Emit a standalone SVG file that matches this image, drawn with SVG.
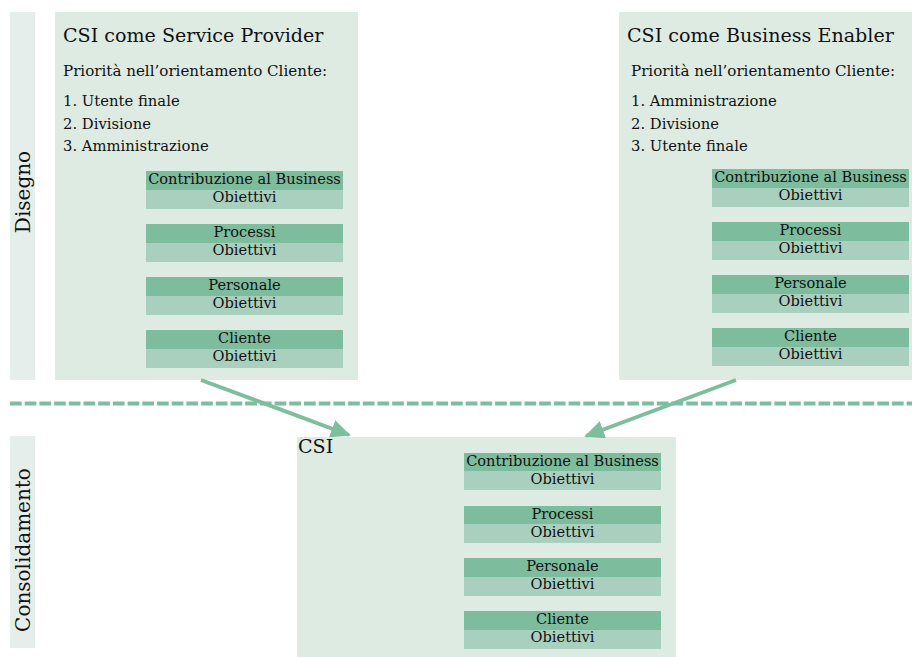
<svg xmlns="http://www.w3.org/2000/svg" width="912" height="657" viewBox="0 0 912 657">
<defs>
<style>
text{font-family:"DejaVu Serif","Liberation Serif",serif;fill:#111111}
.panel{fill:#deebe3}
.strip{fill:#e5eeea}
.dark{fill:#7dbc9c}
.light{fill:#a9cfbe}
.title{font-size:19.1px}
.sub{font-size:15.1px}
.item{font-size:14.8px}
.row{font-size:14.6px;text-anchor:middle}
.lbl{font-size:20px;text-anchor:middle}
.conn{stroke:#7dbe9e;stroke-width:4;fill:none}
</style>
<marker id="ah" viewBox="0 0 10 10" refX="9" refY="5" markerWidth="5" markerHeight="4.5" orient="auto" markerUnits="strokeWidth" preserveAspectRatio="none">
<path d="M0,0 L10,5 L0,10 z" fill="#7dbe9e"/>
</marker>
</defs>
<rect width="912" height="657" fill="#ffffff"/>

<g id="lane-disegno">
<rect class="strip" x="10" y="12" width="25" height="368"/>
<text class="lbl" transform="translate(30,192) rotate(-90)">Disegno</text>
</g>
<g id="lane-consolidamento">
<rect class="strip" x="10" y="436" width="25" height="212"/>
<text class="lbl" transform="translate(30,550) rotate(-90)">Consolidamento</text>
</g>

<g id="service-provider">
<rect class="panel" x="55" y="12" width="303" height="368"/>
<text class="title" x="63" y="42">CSI come Service Provider</text>
<text class="sub" x="63" y="76">Priorità nell’orientamento Cliente:</text>
<text class="item" x="63" y="106">1. Utente finale</text>
<text class="item" x="63" y="129">2. Divisione</text>
<text class="item" x="63" y="151">3. Amministrazione</text>
<rect class="dark" x="146" y="171" width="197" height="19"/><rect class="light" x="146" y="190" width="197" height="19"/>
<text class="row" x="244.5" y="183.5">Contribuzione al Business</text><text class="row" x="244.5" y="201.7">Obiettivi</text>
<rect class="dark" x="146" y="224" width="197" height="19"/><rect class="light" x="146" y="243" width="197" height="19"/>
<text class="row" x="244.5" y="236.5">Processi</text><text class="row" x="244.5" y="254.7">Obiettivi</text>
<rect class="dark" x="146" y="277" width="197" height="19"/><rect class="light" x="146" y="296" width="197" height="19"/>
<text class="row" x="244.5" y="289.5">Personale</text><text class="row" x="244.5" y="307.7">Obiettivi</text>
<rect class="dark" x="146" y="330" width="197" height="19"/><rect class="light" x="146" y="349" width="197" height="19"/>
<text class="row" x="244.5" y="342.5">Cliente</text><text class="row" x="244.5" y="360.7">Obiettivi</text>
</g>

<g id="business-enabler">
<rect class="panel" x="619" y="12" width="293" height="368"/>
<text class="title" x="627" y="42">CSI come Business Enabler</text>
<text class="sub" x="631" y="76">Priorità nell’orientamento Cliente:</text>
<text class="item" x="631" y="106">1. Amministrazione</text>
<text class="item" x="631" y="129">2. Divisione</text>
<text class="item" x="631" y="151">3. Utente finale</text>
<rect class="dark" x="712" y="169" width="197" height="19"/><rect class="light" x="712" y="188" width="197" height="19"/>
<text class="row" x="810.5" y="181.5">Contribuzione al Business</text><text class="row" x="810.5" y="199.7">Obiettivi</text>
<rect class="dark" x="712" y="222" width="197" height="19"/><rect class="light" x="712" y="241" width="197" height="19"/>
<text class="row" x="810.5" y="234.5">Processi</text><text class="row" x="810.5" y="252.7">Obiettivi</text>
<rect class="dark" x="712" y="275" width="197" height="19"/><rect class="light" x="712" y="294" width="197" height="19"/>
<text class="row" x="810.5" y="287.5">Personale</text><text class="row" x="810.5" y="305.7">Obiettivi</text>
<rect class="dark" x="712" y="328" width="197" height="19"/><rect class="light" x="712" y="347" width="197" height="19"/>
<text class="row" x="810.5" y="340.5">Cliente</text><text class="row" x="810.5" y="358.7">Obiettivi</text>
</g>

<g id="csi">
<rect class="panel" x="297" y="437" width="379" height="220"/>
<text class="title" x="298" y="453">CSI</text>
<rect class="dark" x="464" y="453" width="197" height="18"/><rect class="light" x="464" y="471" width="197" height="19"/>
<text class="row" x="562.5" y="465.5">Contribuzione al Business</text><text class="row" x="562.5" y="483.7">Obiettivi</text>
<rect class="dark" x="464" y="506" width="197" height="18"/><rect class="light" x="464" y="524" width="197" height="19"/>
<text class="row" x="562.5" y="518.5">Processi</text><text class="row" x="562.5" y="536.7">Obiettivi</text>
<rect class="dark" x="464" y="558" width="197" height="19"/><rect class="light" x="464" y="577" width="197" height="19"/>
<text class="row" x="562.5" y="570.5">Personale</text><text class="row" x="562.5" y="588.7">Obiettivi</text>
<rect class="dark" x="464" y="611" width="197" height="19"/><rect class="light" x="464" y="630" width="197" height="19"/>
<text class="row" x="562.5" y="623.5">Cliente</text><text class="row" x="562.5" y="641.7">Obiettivi</text>
</g>

<g id="connectors">
<line class="conn" x1="10" y1="403.5" x2="912" y2="403.5" stroke-dasharray="11.7 3"/>
<line class="conn" x1="201" y1="380" x2="349" y2="435" marker-end="url(#ah)"/>
<line class="conn" x1="736" y1="380" x2="586" y2="436" marker-end="url(#ah)"/>
</g>
</svg>
